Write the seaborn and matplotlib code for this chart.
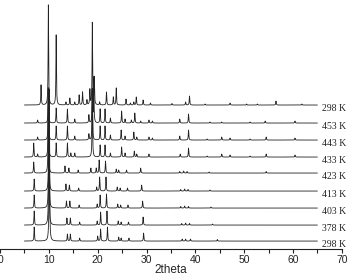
import numpy as np
import pandas as pd
import matplotlib
matplotlib.use("Agg")
import matplotlib.pyplot as plt
import seaborn as sns

# scan labels, bottom to top
labels = ["298 K", "378 K", "403 K", "413 K", "423 K", "433 K", "443 K", "453 K", "298 K"]
offsets = [8, 24, 41, 58, 76, 92, 109, 126, 144]

# peak positions (2theta) and heights
pos_298a = [7.0, 10.1, 13.8, 14.4, 16.3, 20.0, 20.6, 22.0, 24.3, 24.8, 26.4, 29.4, 37.3, 38.0, 39.0, 44.5]
h_298a = [14, 152, 7, 7, 3, 5, 12, 14, 4, 3, 3, 8, 2, 2, 2, 1.5]

pos_378 = [7.0, 10.0, 13.7, 14.4, 16.3, 19.9, 20.6, 21.9, 24.2, 24.8, 26.3, 29.3, 37.2, 38.0, 38.8, 43.5]
h_378 = [14, 136, 7, 7, 3, 4, 13, 14, 4, 3, 3, 8, 1.5, 2, 1.5, 1]

pos_403 = [7.0, 10.0, 13.6, 14.3, 16.2, 19.9, 20.5, 21.8, 24.1, 24.7, 26.2, 29.2, 37.0, 37.8, 38.6, 43.2]
h_403 = [13, 119, 7, 7, 3, 4, 13, 14, 4, 3, 3, 7, 1.5, 2, 1.5, 1]

pos_413 = [7.0, 10.0, 13.5, 14.2, 16.1, 19.8, 20.4, 21.7, 24.0, 24.6, 26.1, 29.0, 37.0, 37.8, 38.5, 43.0]
h_413 = [12, 102, 7, 6, 3, 4, 14, 14, 4, 3, 3, 6, 1.5, 2, 1.5, 1]

pos_423 = [6.9, 9.9, 13.3, 14.1, 16.0, 18.6, 19.7, 20.3, 21.6, 23.8, 24.3, 25.9, 28.8, 36.8, 37.6, 38.3, 42.8, 54.5]
h_423 = [11, 85, 7, 5, 3, 5, 5, 13, 12, 4, 3, 3, 5, 1.5, 2, 1.5, 1, 1.5]

pos_433 = [6.9, 7.7, 9.9, 11.5, 13.8, 14.5, 15.3, 18.9, 20.5, 21.5, 22.6, 24.9, 25.6, 27.5, 28.0, 30.5,
           36.9, 38.6, 42.4, 45.4, 47.1, 51.2, 54.5, 60.4]
h_433 = [14, 3, 69, 14, 14, 4, 4, 67, 12, 12, 4, 10, 4, 6, 3, 3, 3, 9, 1, 3, 2, 1, 3, 2]

pos_443 = [7.7, 9.9, 11.5, 13.8, 15.3, 18.2, 18.9, 20.5, 21.5, 22.6, 24.8, 25.6, 27.4, 28.0, 30.5, 31.2,
           36.8, 38.6, 42.4, 45.4, 47.1, 51.2, 54.5, 60.4]
h_443 = [3, 52, 14, 14, 4, 6, 50, 14, 14, 5, 10, 4, 8, 3, 3, 2, 4, 10, 1, 3, 2, 1, 3, 2]

pos_453 = [7.7, 9.9, 11.5, 13.8, 15.3, 18.2, 18.9, 19.2, 20.5, 21.5, 22.6, 24.9, 25.6, 26.9, 27.6, 28.8,
           30.5, 31.2, 36.8, 38.6, 43.0, 45.4, 51.2, 54.3, 60.4]
h_453 = [3, 35, 15, 14, 4, 8, 33, 45, 14, 14, 5, 12, 4, 3, 10, 2, 3, 2, 4, 9, 1, 1, 1, 2, 2]

pos_298b = [8.4, 9.9, 11.5, 13.5, 14.3, 15.3, 16.2, 16.9, 17.8, 18.4, 18.9, 19.3, 20.4, 21.8, 23.2, 23.8,
            25.8, 26.7, 27.4, 27.9, 29.3, 30.8, 35.2, 38.0, 38.8, 42.0, 47.1, 50.5, 52.7, 56.5, 61.8]
h_298b = [20, 100, 70, 3, 7, 3, 10, 13, 5, 15, 82, 27, 3, 13, 8, 17, 6, 2, 3, 8, 5, 2, 1.5, 3, 9, 1, 2, 1, 1, 4, 1]

peak_pos = [pos_298a, pos_378, pos_403, pos_413, pos_423, pos_433, pos_443, pos_453, pos_298b]
peak_h = [h_298a, h_378, h_403, h_413, h_423, h_433, h_443, h_453, h_298b]

two_theta = np.arange(5, 65, 0.01)
hwhm = 0.06

rows = []
for i, (pp, hh) in enumerate(zip(peak_pos, peak_h)):
    y = np.zeros_like(two_theta)
    for p, h in zip(pp, hh):
        y += h / (1 + ((two_theta - p) / hwhm) ** 2)
    rows.append(pd.DataFrame({"2theta": two_theta, "intensity": y + offsets[i], "scan": i}))
df = pd.concat(rows, ignore_index=True)

sns.set_style("white")
fig = plt.figure(figsize=(3.51, 2.74), dpi=100)
ax = fig.add_axes([0.0, 0.091, 0.974, 0.909])

sns.lineplot(data=df, x="2theta", y="intensity", hue="scan", units="scan", estimator=None,
             palette={i: "#222222" for i in range(len(labels))}, legend=False, lw=0.6, ax=ax, sort=False)

for i, lab in enumerate(labels):
    ax.text(66.0, offsets[i] - 3, lab, fontsize=7, family="Liberation Serif", va="center", ha="left",
            color="#222222")

ax.set_xlim(0, 70)
ax.set_ylim(0, 249)
ax.set_xticks(range(0, 71, 10))
ax.set_xticks(range(5, 70, 10), minor=True)
ax.set_yticks([])
ax.tick_params(axis="x", which="both", direction="out", length=3, width=0.8, colors="#222222",
               labelsize=7.5, pad=1.5, bottom=True)
for lab in ax.get_xticklabels():
    lab.set_family("Liberation Sans")
ax.set_xlabel("2theta", fontsize=8.5, family="Liberation Sans", labelpad=-1)
ax.set_ylabel("")
for s in ["left", "top", "right"]:
    ax.spines[s].set_visible(False)
ax.spines["bottom"].set_color("#222222")
ax.spines["bottom"].set_linewidth(0.8)

fig.savefig("out.png", dpi=100)
